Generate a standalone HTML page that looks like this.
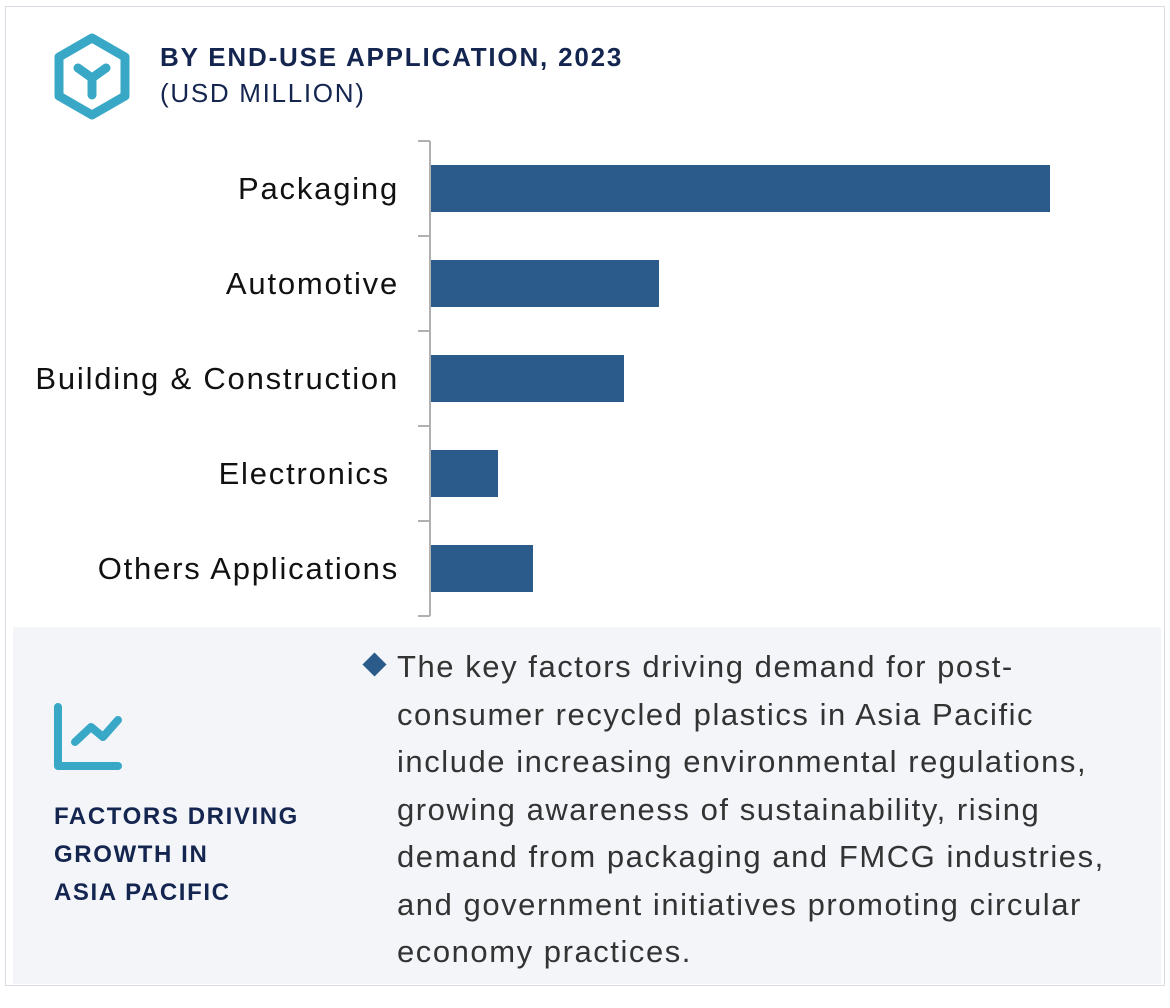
<!DOCTYPE html>
<html><head><meta charset="utf-8"><style>
body{margin:0;width:1170px;height:1008px;background:#fff;font-family:"Liberation Sans",Arial,sans-serif;position:relative;overflow:hidden}
.abs{position:absolute}
</style></head><body>
<div class="abs" style="left:5px;top:6px;width:1158px;height:978px;border:1px solid #d8dce3;"></div>
<svg class="abs" style="left:50px;top:32px" width="84" height="90" viewBox="0 0 84 90">
<polygon points="42,6 75,25 75,64 42,83 9,64 9,25" fill="none" stroke="#38a8c6" stroke-width="9" stroke-linejoin="round"/>
<path d="M28,36 L42,46 L56,36 M42,46 L42,63" fill="none" stroke="#38a8c6" stroke-width="9" stroke-linecap="round"/>
</svg>
<div class="abs" style="left:160px;top:40px;font-size:26px;font-weight:bold;color:#14254f;line-height:34px;letter-spacing:1.8px">BY END-USE APPLICATION, 2023</div>
<div class="abs" style="left:160px;top:76px;font-size:26px;color:#14254f;line-height:34px;letter-spacing:1.7px">(USD MILLION)</div>
<svg id="chart" class="abs" style="left:0;top:0" width="1170" height="630"></svg>
<div class="abs" style="left:13px;top:627px;width:1148px;height:357px;background:#f3f5f9"></div>
<svg class="abs" style="left:50px;top:700px" width="80" height="72">
<path d="M8,7 L8,66 L68,66" fill="none" stroke="#38a8c6" stroke-width="8" stroke-linecap="round" stroke-linejoin="round"/>
<path d="M25,42 L41,27 L53,37 L68,20" fill="none" stroke="#38a8c6" stroke-width="8" stroke-linecap="round" stroke-linejoin="round"/>
</svg>
<div class="abs" style="left:54px;top:798px;font-size:24px;font-weight:bold;color:#14254f;line-height:38px;letter-spacing:1.6px">FACTORS DRIVING<br>GROWTH IN<br>ASIA PACIFIC</div>
<div class="abs" style="left:366px;top:656px;width:17px;height:17px;background:#2b5b8a;transform:rotate(45deg)"></div>
<div class="abs" style="left:397px;top:643px;width:770px;font-size:31px;color:#333;line-height:47.5px;letter-spacing:1.55px;white-space:nowrap">The key factors driving demand for post-<br>consumer recycled plastics in Asia Pacific<br>include increasing environmental regulations,<br>growing awareness of sustainability, rising<br>demand from packaging and FMCG industries,<br>and government initiatives promoting circular<br>economy practices.</div>
<script>
const categories=["Packaging","Automotive","Building & Construction","Electronics","Others Applications"];
const values=[620,229,194,68,103];
const svg=document.getElementById('chart');
const NS='http://www.w3.org/2000/svg';
const x0=430,top0=141,band=95,scale=1.0;
function xPos(v){return x0+v*scale;}
function yBand(i){return top0+i*band;}
const axis=document.createElementNS(NS,'line');
axis.setAttribute('x1',x0);axis.setAttribute('x2',x0);axis.setAttribute('y1',top0);axis.setAttribute('y2',yBand(categories.length));
axis.setAttribute('stroke','#b0b0b0');axis.setAttribute('stroke-width','2');


svg.appendChild(axis);
for(let i=0;i<=categories.length;i++){
 const t=document.createElementNS(NS,'line');
 t.setAttribute('x1',418);t.setAttribute('x2',x0);t.setAttribute('y1',yBand(i));t.setAttribute('y2',yBand(i));
 t.setAttribute('stroke','#b0b0b0');t.setAttribute('stroke-width','2');
 
 
 svg.appendChild(t);
}
categories.forEach((c,i)=>{
 const r=document.createElementNS(NS,'rect');
 r.setAttribute('x',x0+1);r.setAttribute('y',yBand(i)+24);r.setAttribute('width',xPos(values[i])-x0-1);r.setAttribute('height',47);
 r.setAttribute('fill','#2b5b8a');
 
 
 svg.appendChild(r);
 const tx=document.createElementNS(NS,'text');
 tx.setAttribute('x',c==="Electronics"?390:399);tx.setAttribute('y',yBand(i)+58);tx.setAttribute('text-anchor','end');
 tx.setAttribute('font-size','31');tx.setAttribute('fill','#111');tx.setAttribute('font-family','Liberation Sans, Arial, sans-serif');
 tx.setAttribute('letter-spacing','1.8');
 tx.textContent=c;
 
 
 svg.appendChild(tx);
});
</script>
</body></html>
